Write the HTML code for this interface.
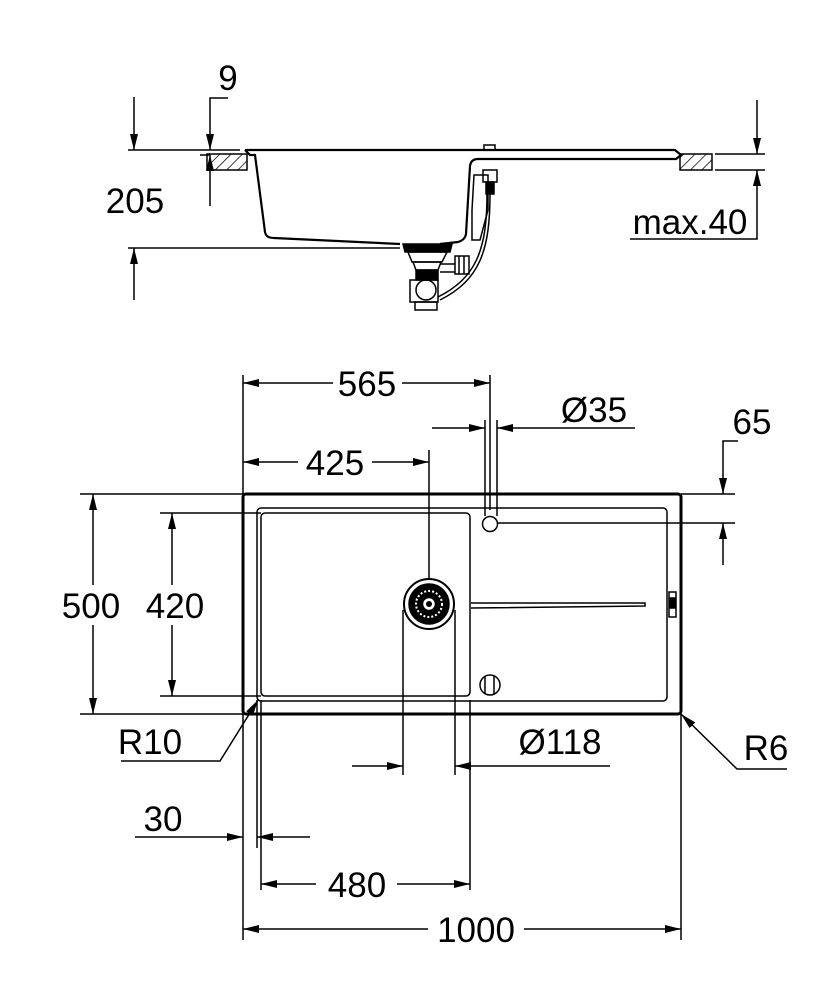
<!DOCTYPE html>
<html><head><meta charset="utf-8"><style>
html,body{margin:0;padding:0;background:#fff;}
svg{display:block;}
text{font-family:"Liberation Sans",Arial,sans-serif;font-size:35px;fill:#000;}
</style></head><body>
<svg width="834" height="1000" viewBox="0 0 834 1000" xmlns="http://www.w3.org/2000/svg">
<defs>
<marker id="a" viewBox="0 0 16 8" refX="16" refY="4" markerWidth="16" markerHeight="8" markerUnits="userSpaceOnUse" orient="auto">
<path d="M0,0 L16,4 L0,8 z" fill="#000"/></marker>
<pattern id="h" patternUnits="userSpaceOnUse" width="8" height="8" patternTransform="rotate(45)">
<line x1="0" y1="0" x2="0" y2="8" stroke="#000" stroke-width="1.5"/></pattern>
</defs>
<g stroke="#000" fill="none" stroke-width="1.5">
<!-- ===== TOP SECTION ===== -->
<rect x="207" y="154" width="40" height="16" fill="url(#h)" stroke="#000"/>
<rect x="680" y="154" width="32" height="16" fill="url(#h)" stroke="#000"/>
<path d="M245,150 L675,150 L681,155 L676,159 L478,159 Q471,159 470,166" stroke-width="2.2"/>
<path d="M245,150 L250,155 L255,155 L265,232 Q266,238 274,238 L400,244" stroke-width="2.2"/>
<path d="M470,166 L466,234 Q465,240 458,242 L440,244" stroke-width="2.2"/>
<path d="M484,150 L484,145 L495,145 L495,150"/>
<path d="M403,244 L452,244 L450,252 L405,252 Z" fill="#000"/>
<path d="M408,252 L447,252 L442,262 L412,262 Z"/>
<path d="M413,262 L441,262 L438,270 L416,270 Z"/>
<rect x="416" y="270" width="22" height="10" fill="#000"/>
<rect x="410" y="280" width="28" height="22"/>
<circle cx="426" cy="290" r="10"/>
<rect x="415" y="302" width="22" height="8"/>
<rect x="455" y="256" width="14" height="18"/>
<line x1="459" y1="256" x2="459" y2="274"/><line x1="464" y1="256" x2="464" y2="274"/>
<path d="M440,264 L455,264 M440,272 L455,272"/>
<path d="M474,175 L488,175 L488,210 L480,240 L472,240 L472,210 Z"/>
<rect x="483" y="170" width="14" height="12"/>
<rect x="486" y="182" width="8" height="12" fill="#000"/>
<path d="M490,194 C490,250 480,280 440,300"/>
<path d="M487,194 C487,250 476,278 438,297"/>
<line x1="128" y1="150" x2="240" y2="150"/>
<line x1="200" y1="155" x2="210" y2="155"/>
<line x1="128" y1="248" x2="400" y2="248"/>
<line x1="134" y1="97" x2="134" y2="150" marker-end="url(#a)"/>
<line x1="134" y1="300" x2="134" y2="248" marker-end="url(#a)"/>
<path d="M228,98 L210,98 L210,150" marker-end="url(#a)"/>
<line x1="210" y1="206" x2="210" y2="155" marker-end="url(#a)"/>
<line x1="715" y1="154" x2="765" y2="154"/>
<line x1="715" y1="170" x2="765" y2="170"/>
<line x1="757" y1="100" x2="757" y2="154" marker-end="url(#a)"/>
<path d="M630,239 L757,239 L757,170" marker-end="url(#a)"/>

<!-- ===== PLAN VIEW ===== -->
<rect x="243" y="494" width="438" height="220" rx="3" stroke-width="3"/>
<rect x="257" y="508" width="410" height="193" rx="4"/>
<rect x="261" y="513" width="209" height="183" rx="4"/>
<circle cx="429" cy="604" r="25" stroke-width="2"/>
<circle cx="429" cy="604" r="20" fill="#000"/>
<circle cx="429" cy="604" r="13" stroke="#fff" stroke-width="2" stroke-dasharray="2 2"/>
<circle cx="429" cy="604" r="5" fill="#fff" stroke="#fff"/>
<circle cx="429" cy="604" r="3" fill="#000" stroke="none"/>
<circle cx="490" cy="524" r="7.5"/>
<circle cx="490" cy="685" r="10"/>
<line x1="485" y1="676" x2="485" y2="694"/><line x1="494" y1="676" x2="494" y2="694"/>
<path d="M471,603 L645,603 L645,606 L471,608"/>
<rect x="669" y="592" width="7" height="25"/>
<rect x="670" y="598" width="5" height="10" fill="#000"/>
<line x1="243" y1="375" x2="243" y2="940"/>
<line x1="490" y1="375" x2="490" y2="510"/>
<line x1="333" y1="383" x2="243" y2="383" marker-end="url(#a)"/>
<line x1="402" y1="383" x2="490" y2="383" marker-end="url(#a)"/>
<line x1="485" y1="420" x2="485" y2="516"/>
<line x1="497" y1="420" x2="497" y2="516"/>
<line x1="432" y1="428" x2="485" y2="428" marker-end="url(#a)"/>
<line x1="635" y1="428" x2="497" y2="428" marker-end="url(#a)"/>
<line x1="429" y1="450" x2="429" y2="580"/>
<line x1="298" y1="462" x2="243" y2="462" marker-end="url(#a)"/>
<line x1="372" y1="462" x2="429" y2="462" marker-end="url(#a)"/>
<line x1="681" y1="494" x2="735" y2="494"/>
<line x1="497" y1="523" x2="735" y2="523"/>
<path d="M738,441 L723,441 L723,494" marker-end="url(#a)"/>
<line x1="723" y1="565" x2="723" y2="523" marker-end="url(#a)"/>
<line x1="80" y1="494" x2="243" y2="494"/>
<line x1="80" y1="714" x2="243" y2="714"/>
<line x1="93" y1="585" x2="93" y2="494" marker-end="url(#a)"/>
<line x1="93" y1="625" x2="93" y2="714" marker-end="url(#a)"/>
<line x1="160" y1="513" x2="261" y2="513"/>
<line x1="160" y1="696" x2="261" y2="696"/>
<line x1="172" y1="585" x2="172" y2="513" marker-end="url(#a)"/>
<line x1="172" y1="625" x2="172" y2="696" marker-end="url(#a)"/>
<path d="M121,761 L220,761 L258,700" marker-end="url(#a)"/>
<line x1="403" y1="610" x2="403" y2="775"/>
<line x1="455" y1="610" x2="455" y2="775"/>
<line x1="352" y1="766" x2="403" y2="766" marker-end="url(#a)"/>
<line x1="610" y1="766" x2="455" y2="766" marker-end="url(#a)"/>
<path d="M787,769 L737,769 L681,714" marker-end="url(#a)"/>
<line x1="257" y1="700" x2="257" y2="848"/>
<line x1="261" y1="700" x2="261" y2="890"/>
<line x1="135" y1="837" x2="243" y2="837" marker-end="url(#a)"/>
<line x1="310" y1="837" x2="257" y2="837" marker-end="url(#a)"/>
<line x1="470" y1="700" x2="470" y2="890"/>
<line x1="316" y1="884" x2="261" y2="884" marker-end="url(#a)"/>
<line x1="397" y1="884" x2="470" y2="884" marker-end="url(#a)"/>
<line x1="681" y1="714" x2="681" y2="940"/>
<line x1="428" y1="929" x2="243" y2="929" marker-end="url(#a)"/>
<line x1="524" y1="929" x2="681" y2="929" marker-end="url(#a)"/>
</g>
<g>
<text x="228" y="90" text-anchor="middle">9</text>
<text x="135" y="213" text-anchor="middle">205</text>
<text x="690" y="234" text-anchor="middle">max.40</text>
<text x="367" y="396" text-anchor="middle">565</text>
<text x="594" y="422" text-anchor="middle">Ø35</text>
<text x="335" y="475" text-anchor="middle">425</text>
<text x="752" y="434" text-anchor="middle">65</text>
<text x="91" y="618" text-anchor="middle">500</text>
<text x="175" y="618" text-anchor="middle">420</text>
<text x="150" y="754" text-anchor="middle">R10</text>
<text x="560" y="754" text-anchor="middle">Ø118</text>
<text x="766" y="760" text-anchor="middle">R6</text>
<text x="163" y="831" text-anchor="middle">30</text>
<text x="357" y="897" text-anchor="middle">480</text>
<text x="476" y="942" text-anchor="middle">1000</text>
</g>
</svg>
</body></html>
